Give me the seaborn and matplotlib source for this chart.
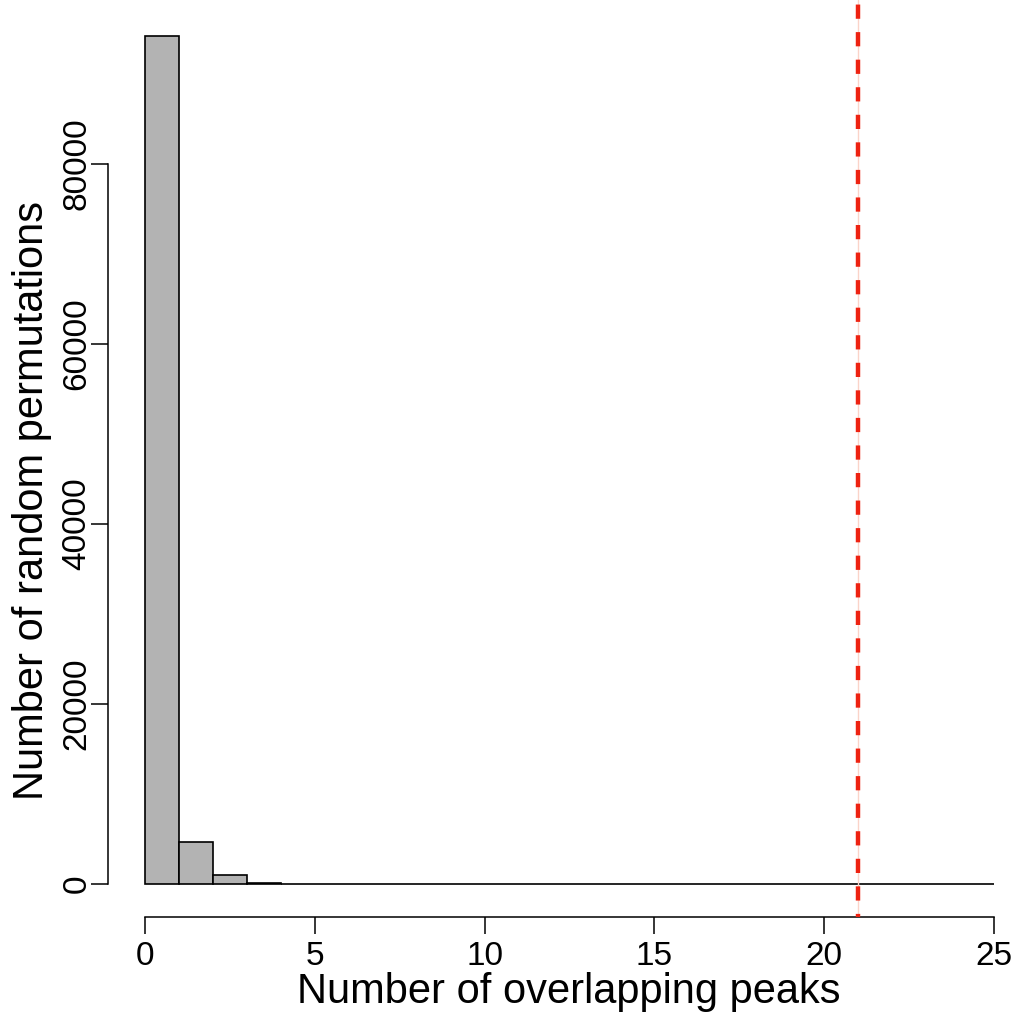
import numpy as np
import pandas as pd
import matplotlib
matplotlib.use("Agg")
import matplotlib.pyplot as plt
import seaborn as sns

# permutation histogram: count per bin [k, k+1)
bin_starts = list(range(25))
counts = [94200, 4700, 950, 130, 15, 3, 1] + [0] * 18
observed = 21

df = pd.DataFrame({"start": bin_starts, "count": counts})

sns.set_style("white")
plt.rcParams["font.family"] = ["Liberation Sans", "DejaVu Sans"]

fig = plt.figure(figsize=(10.21, 10.19), dpi=100)
ax = fig.add_axes([108 / 1021, (1019 - 917) / 1019, (1030 - 108) / 1021, 917 / 1019])

sns.histplot(data=df, x="start", weights="count", binwidth=1, binrange=(0, 25), ax=ax,
             color="#b3b3b3", edgecolor="black", linewidth=1.2, alpha=1)

# red dashed observed line (with faint connector)
ax.axvline(observed, color="#fbd3c8", lw=1, zorder=3)
ax.axvline(observed, color="#ee2211", lw=3.2, ls=(2.5, (3.2, 3.0)), zorder=4)

ax.set_xlim(-1.09, 26.06)
ax.set_ylim(-3667, 98222)

for s in ["top", "right"]:
    ax.spines[s].set_visible(False)
ax.spines["left"].set_bounds(0, 80000)
ax.spines["bottom"].set_bounds(0, 25)
for s in ["left", "bottom"]:
    ax.spines[s].set_color("black")
    ax.spines[s].set_linewidth(1.1)

ax.set_xticks([0, 5, 10, 15, 20, 25])
ax.set_yticks([0, 20000, 40000, 60000, 80000])
ax.set_yticklabels(["0", "20000", "40000", "60000", "80000"], rotation=90, va="center")
ax.tick_params(axis="both", length=12, width=1.1, color="black", labelcolor="black",
               labelsize=24, left=True, bottom=True)
ax.tick_params(axis="x", pad=5)
ax.tick_params(axis="y", pad=-1)

ax.set_xlabel("Number of overlapping peaks", fontsize=30, labelpad=0, color="black")
ax.set_ylabel("Number of random permutations", fontsize=30, color="black")
ax.yaxis.set_label_coords((52 - 108) / 922, (917 - 501) / 917)

fig.savefig("out.png", dpi=100)
